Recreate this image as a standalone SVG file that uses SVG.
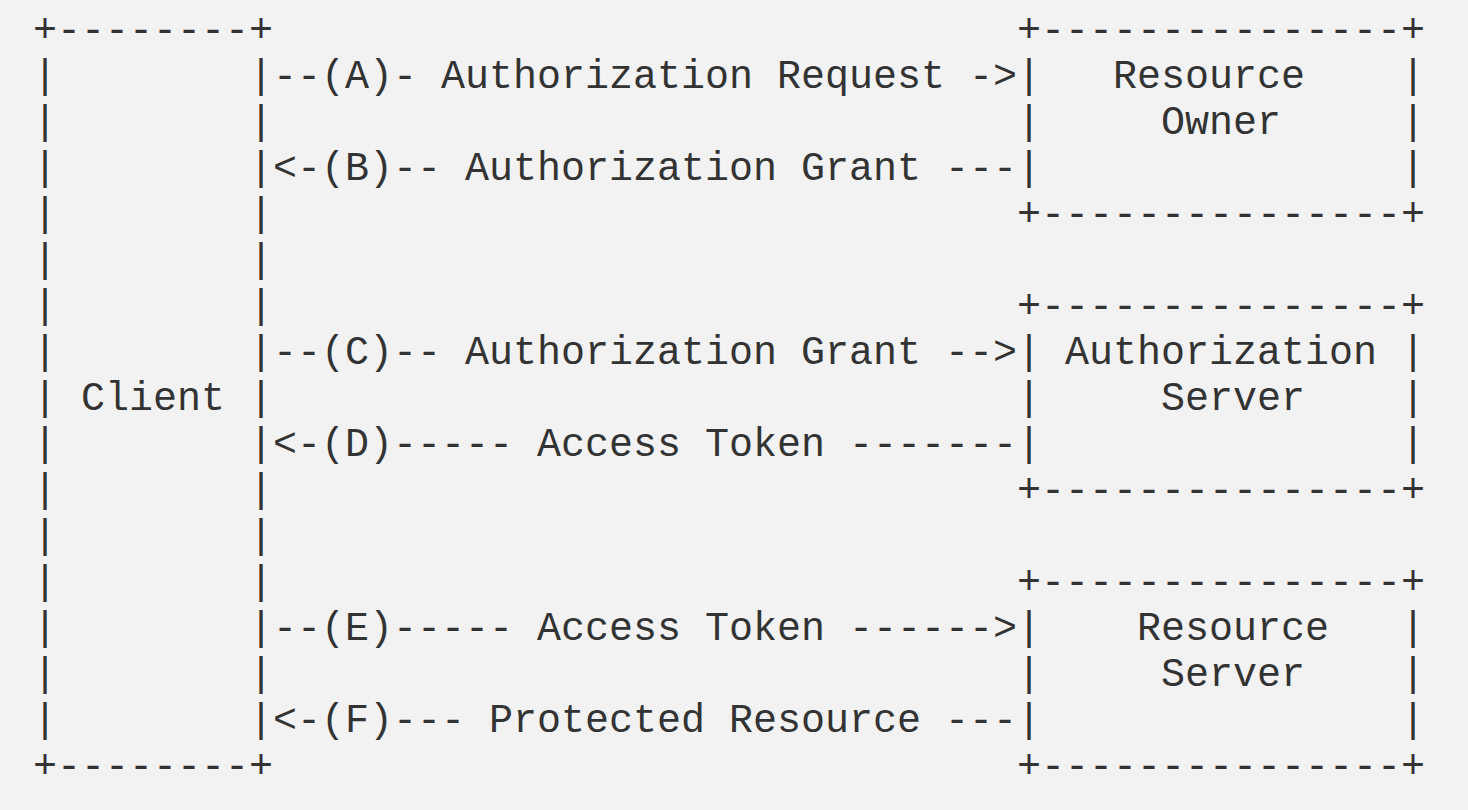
<svg xmlns="http://www.w3.org/2000/svg" width="1468" height="810" viewBox="0 0 1468 810" xml:space="preserve">
<style>
text { font-family: "Liberation Mono", "DejaVu Sans Mono", monospace; font-size: 40px; fill: #333333; white-space: pre; }
</style>
<rect x="0" y="0" width="1468" height="810" fill="#f2f2f2"/>
<g id="client">
<text x="33" y="42">+--------+</text>
<text x="33" y="88">|        |</text>
<text x="33" y="134">|        |</text>
<text x="33" y="180">|        |</text>
<text x="33" y="226">|        |</text>
<text x="33" y="272">|        |</text>
<text x="33" y="318">|        |</text>
<text x="33" y="364">|        |</text>
<text x="33" y="410">| Client |</text>
<text x="33" y="456">|        |</text>
<text x="33" y="502">|        |</text>
<text x="33" y="548">|        |</text>
<text x="33" y="594">|        |</text>
<text x="33" y="640">|        |</text>
<text x="33" y="686">|        |</text>
<text x="33" y="732">|        |</text>
<text x="33" y="778">+--------+</text>
</g>
<g id="resource-owner">
<text x="1017" y="42">+---------------+</text>
<text x="1017" y="88">|   Resource    |</text>
<text x="1017" y="134">|     Owner     |</text>
<text x="1017" y="180">|               |</text>
<text x="1017" y="226">+---------------+</text>
</g>
<g id="authorization-server">
<text x="1017" y="318">+---------------+</text>
<text x="1017" y="364">| Authorization |</text>
<text x="1017" y="410">|     Server    |</text>
<text x="1017" y="456">|               |</text>
<text x="1017" y="502">+---------------+</text>
</g>
<g id="resource-server">
<text x="1017" y="594">+---------------+</text>
<text x="1017" y="640">|    Resource   |</text>
<text x="1017" y="686">|     Server    |</text>
<text x="1017" y="732">|               |</text>
<text x="1017" y="778">+---------------+</text>
</g>
<g id="connectors">
<text x="273" y="88">--(A)- Authorization Request -&gt;</text>
<text x="273" y="180">&lt;-(B)-- Authorization Grant ---</text>
<text x="273" y="364">--(C)-- Authorization Grant --&gt;</text>
<text x="273" y="456">&lt;-(D)----- Access Token -------</text>
<text x="273" y="640">--(E)----- Access Token ------&gt;</text>
<text x="273" y="732">&lt;-(F)--- Protected Resource ---</text>
</g>
</svg>
